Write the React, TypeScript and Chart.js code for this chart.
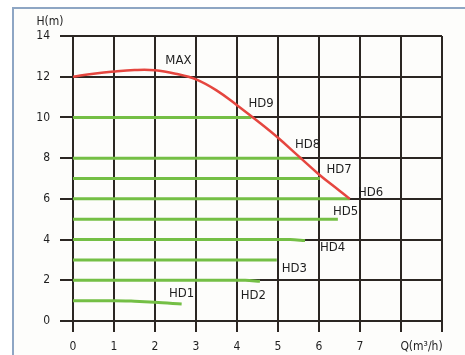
import React, { useEffect, useRef } from "react";
import { Chart, registerables } from "chart.js";

Chart.register(...registerables);

// X axis ticks (flow, m³/h) and Y axis ticks (head, m)
const flowTicks = [0, 1, 2, 3, 4, 5, 6, 7];
const flowMax = 9;
const headMax = 14;
const headStep = 2;

// MAX curve
const maxFlow = [0, 0.5, 1, 1.5, 2, 2.5, 3, 3.5, 4, 4.5, 5, 5.5, 6, 6.5, 6.75];
const maxHead = [12.0, 12.15, 12.26, 12.33, 12.32, 12.15, 11.87, 11.33, 10.6, 9.82, 9.0, 8.1, 7.2, 6.4, 6.0];

// HD curves
const hd1Flow = [0, 1, 1.5, 2, 2.65];
const hd1Head = [1.0, 1.0, 0.97, 0.92, 0.83];
const hd2Flow = [0, 4.2, 4.56];
const hd2Head = [2, 2, 1.95];
const hd3Flow = [0, 4.97];
const hd3Head = [3, 3];
const hd4Flow = [0, 5.3, 5.66];
const hd4Head = [4, 4, 3.95];
const hd5Flow = [0, 6.46];
const hd5Head = [5, 5];
const hd6Flow = [0, 6.75];
const hd6Head = [6, 6];
const hd7Flow = [0, 6.02];
const hd7Head = [7, 7];
const hd8Flow = [0, 5.58];
const hd8Head = [8, 8];
const hd9Flow = [0, 4.35];
const hd9Head = [10, 10];

// Curve labels
const labelText = ["MAX", "HD9", "HD8", "HD7", "HD6", "HD5", "HD4", "HD3", "HD2", "HD1"];
const labelFlow = [2.57, 4.59, 5.72, 6.49, 7.26, 6.65, 6.33, 5.4, 4.4, 2.65];
const labelHead = [12.8, 10.66, 8.67, 7.44, 6.31, 5.38, 3.59, 2.55, 1.23, 1.33];

const yTitle = "H(m)";
const xTitle = "Q(m³/h)";

const FONT = '"DejaVu Sans Condensed", "Liberation Sans Narrow", "DejaVu Sans", sans-serif';
const GRID = "#2b2622";
const RED = "#e5463f";
const GREEN = "#74bf45";

const pts = (xs: number[], ys: number[]) => xs.map((x, i) => ({ x, y: ys[i] }));

const hdSets = [
  [hd1Flow, hd1Head],
  [hd2Flow, hd2Head],
  [hd3Flow, hd3Head],
  [hd4Flow, hd4Head],
  [hd5Flow, hd5Head],
  [hd6Flow, hd6Head],
  [hd7Flow, hd7Head],
  [hd8Flow, hd8Head],
  [hd9Flow, hd9Head],
];

export default function App() {
  const ref = useRef<HTMLCanvasElement | null>(null);

  useEffect(() => {
    if (!ref.current) return;

    const framePlugin = {
      id: "frame",
      beforeDraw(chart: any) {
        const ctx = chart.ctx;
        ctx.save();
        ctx.fillStyle = "#ffffff";
        ctx.fillRect(0, 0, chart.width, chart.height);
        ctx.fillStyle = "#fdfdfb";
        ctx.fillRect(12, 7, chart.width - 12, chart.height - 7);
        ctx.strokeStyle = "#8ea6c4";
        ctx.lineWidth = 2;
        ctx.beginPath();
        ctx.moveTo(13, chart.height);
        ctx.lineTo(13, 8);
        ctx.lineTo(chart.width, 8);
        ctx.stroke();
        ctx.restore();
      },
      afterDatasetsDraw(chart: any) {
        const ctx = chart.ctx;
        const xs = chart.scales.x;
        const ys = chart.scales.y;
        ctx.save();
        ctx.fillStyle = "#1e1e1e";
        ctx.font = `13px ${FONT}`;
        ctx.textAlign = "center";
        ctx.textBaseline = "middle";
        labelText.forEach((t, i) => {
          ctx.fillText(t, xs.getPixelForValue(labelFlow[i]), ys.getPixelForValue(labelHead[i]));
        });
        ctx.font = `12px ${FONT}`;
        ctx.fillText(yTitle, 50, 22);
        ctx.fillText(xTitle, xs.getPixelForValue(8.5), 347);
        ctx.restore();
      },
    };

    const datasets: any[] = [
      {
        label: "MAX",
        data: pts(maxFlow, maxHead),
        borderColor: RED,
        borderWidth: 2.5,
        pointRadius: 0,
        tension: 0.4,
        fill: false,
      },
      ...hdSets.map(([f, h], i) => ({
        label: "HD" + (i + 1),
        data: pts(f, h),
        borderColor: GREEN,
        borderWidth: 3,
        pointRadius: 0,
        cubicInterpolationMode: "monotone",
        fill: false,
      })),
    ];

    const chart = new Chart(ref.current, {
      type: "line",
      data: { datasets },
      plugins: [framePlugin],
      options: {
        animation: false,
        responsive: false,
        devicePixelRatio: 1,
        layout: { padding: { left: 0, top: 36, right: 23, bottom: 0 } },
        plugins: { legend: { display: false }, tooltip: { enabled: false } },
        scales: {
          x: {
            type: "linear",
            min: 0,
            max: flowMax,
            afterBuildTicks: (s: any) => {
              const arr = [];
              for (let v = 0; v <= flowMax; v++) arr.push({ value: v });
              s.ticks = arr;
            },
            afterFit: (s: any) => {
              s.height = 34;
            },
            ticks: {
              color: "#1e1e1e",
              font: { family: FONT, size: 12 },
              padding: 8,
              maxRotation: 0,
              autoSkip: false,
              callback: (v: any) => (flowTicks.includes(v) ? String(v) : ""),
            },
            grid: { color: GRID, lineWidth: 2, tickLength: 11, drawTicks: true },
            border: { display: false },
          },
          y: {
            type: "linear",
            min: 0,
            max: headMax,
            afterFit: (s: any) => {
              s.width = 73;
            },
            ticks: {
              stepSize: headStep,
              color: "#1e1e1e",
              font: { family: FONT, size: 12 },
              padding: 10,
            },
            grid: { color: GRID, lineWidth: 2, tickLength: 13, drawTicks: true },
            border: { display: false },
          },
        },
      } as any,
    });
    return () => chart.destroy();
  }, []);

  return (
    <canvas
      ref={ref}
      width={465}
      height={355}
      style={{ position: "absolute", left: 0, top: 0, width: 465, height: 355 }}
    />
  );
}
